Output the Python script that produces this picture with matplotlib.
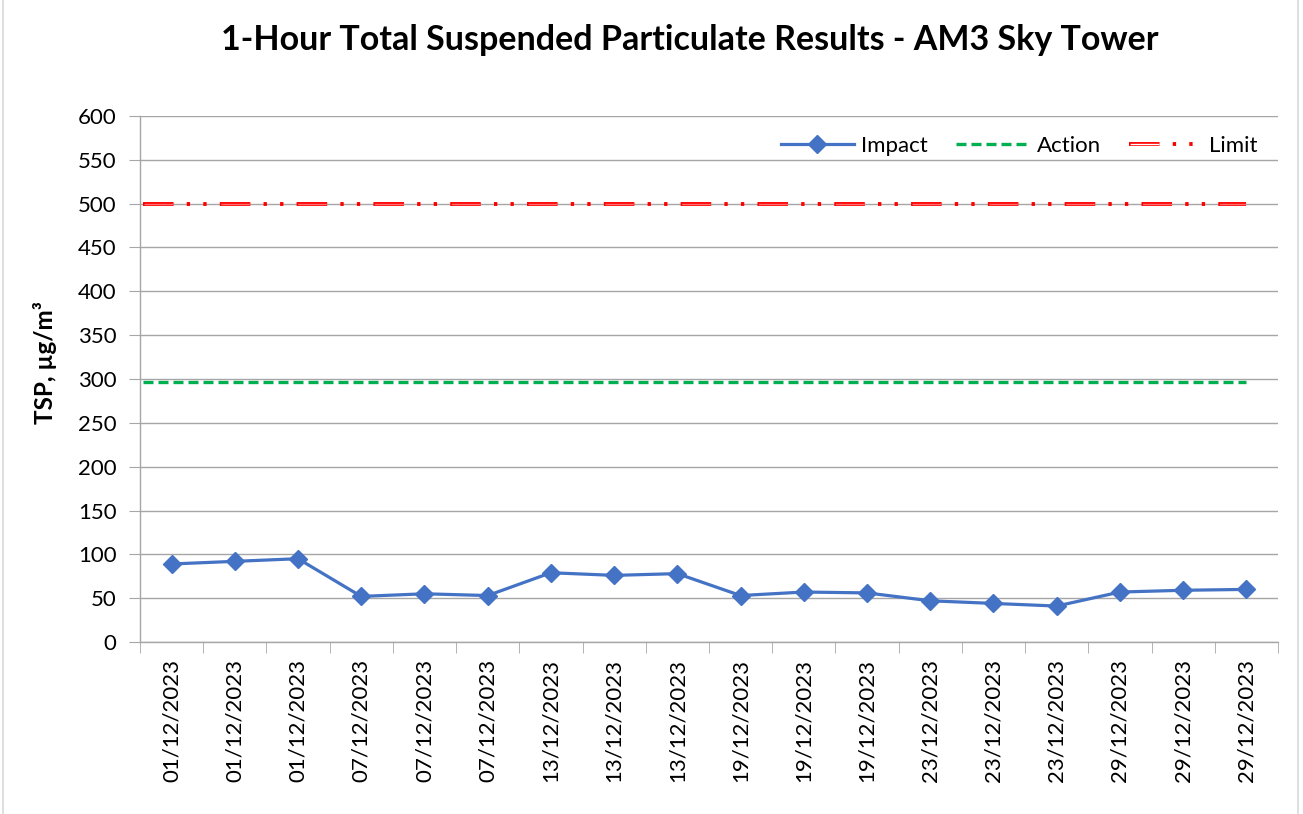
import matplotlib
matplotlib.use("Agg")
import matplotlib.pyplot as plt
from matplotlib.lines import Line2D
from matplotlib.legend_handler import HandlerTuple

# data
dates = ["01/12/2023", "01/12/2023", "01/12/2023",
         "07/12/2023", "07/12/2023", "07/12/2023",
         "13/12/2023", "13/12/2023", "13/12/2023",
         "19/12/2023", "19/12/2023", "19/12/2023",
         "23/12/2023", "23/12/2023", "23/12/2023",
         "29/12/2023", "29/12/2023", "29/12/2023"]
impact = [89, 92, 95, 52, 55, 53, 79, 76, 78, 53, 57, 56, 47, 44, 41, 57, 59, 60]
action_level = 297
limit_level = 500

plt.rcParams["font.family"] = ["Lato", "DejaVu Sans"]
plt.rcParams["lines.scale_dashes"] = False

fig = plt.figure(figsize=(13.03, 8.14), dpi=100)
ax = fig.add_axes([0.1074, 0.2113, 0.8734, 0.6462])

x = list(range(len(dates)))
x_ref = [-0.45, len(dates) - 1]

# Impact
ax.plot(x, impact, color="#4472c4", lw=2.3, marker="D", markersize=9,
        zorder=5, solid_joinstyle="round")

# Action
ax.plot(x_ref, [action_level] * 2, color="#00b050", lw=2.4,
        linestyle=(0, (7.2, 3.6)), dash_capstyle="butt", zorder=4)

# Limit: hollow red dash then two dots
limit_pat = (0, (22, 9.5, 2.4, 9.5, 2.4, 9.5))
inner_pat = (54.5, (20.8, 34.5))
ax.plot(x_ref, [limit_level] * 2, color="#ff0000", lw=2.8,
        linestyle=limit_pat, dash_capstyle="butt", zorder=4)
ax.plot(x_ref, [limit_level] * 2, color="#ff7070", lw=1.0,
        linestyle=inner_pat, dash_capstyle="butt", zorder=4)

ax.set_xlim(-0.5, len(dates) - 0.5)
ax.set_ylim(0, 600)
ax.set_yticks(range(0, 601, 50))
ax.yaxis.grid(True, color="#a6a6a6", lw=1)
ax.set_axisbelow(True)

ax.set_xticks(x)
ax.set_xticklabels(dates, rotation=90, fontsize=16)
ax.set_xticks([i - 0.5 for i in range(len(dates) + 1)], minor=True)
ax.tick_params(axis="x", which="major", length=0, pad=12)
ax.tick_params(axis="x", which="minor", length=8, color="#a6a6a6", direction="out")
ax.tick_params(axis="y", length=8, color="#a6a6a6", labelsize=16, pad=9)

for side in ["top", "right"]:
    ax.spines[side].set_visible(False)
for side in ["left", "bottom"]:
    ax.spines[side].set_color("#a6a6a6")
    ax.spines[side].set_linewidth(1)

# legend
h_imp = Line2D([], [], color="#4472c4", lw=2.3, marker="D", markersize=9)
h_act = Line2D([], [], color="#00b050", lw=2.4, linestyle=(0, (7.2, 3.6)),
               dash_capstyle="butt")
h_lim1 = Line2D([], [], color="#ff0000", lw=2.8,
                linestyle=(0, (22, 9.5, 2.4, 9.5, 2.4, 9.5)), dash_capstyle="butt")
h_lim2 = Line2D([], [], color="#ffffff", lw=1.0,
                linestyle=(54.5, (20.8, 34.5)), dash_capstyle="butt")
ax.legend([h_imp, h_act, (h_lim1, h_lim2)], ["Impact", "Action", "Limit"],
          handler_map={tuple: HandlerTuple(ndivide=1, pad=0)},
          ncol=3, loc="upper right", bbox_to_anchor=(1.0, 1.0),
          frameon=False, fontsize=16, handlelength=3.3,
          handletextpad=0.3, columnspacing=1.3, borderaxespad=0.5)

fig.text(690 / 1303, 1 - 40 / 814, "1-Hour Total Suspended Particulate Results - AM3 Sky Tower",
         ha="center", va="center", fontsize=24.5, fontweight="bold")
fig.text(45 / 1303, 1 - 363 / 814, "TSP, µg/m³", rotation=90,
         ha="center", va="center", fontsize=17.5, fontweight="bold")

# chart border
fig.add_artist(Line2D([0.0025, 0.0025], [0, 1], color="#d9d9d9", lw=1.2,
                      transform=fig.transFigure))
fig.add_artist(Line2D([0.9965, 0.9965], [0, 1], color="#d9d9d9", lw=1.2,
                      transform=fig.transFigure))

fig.savefig("out.png", dpi=100)
